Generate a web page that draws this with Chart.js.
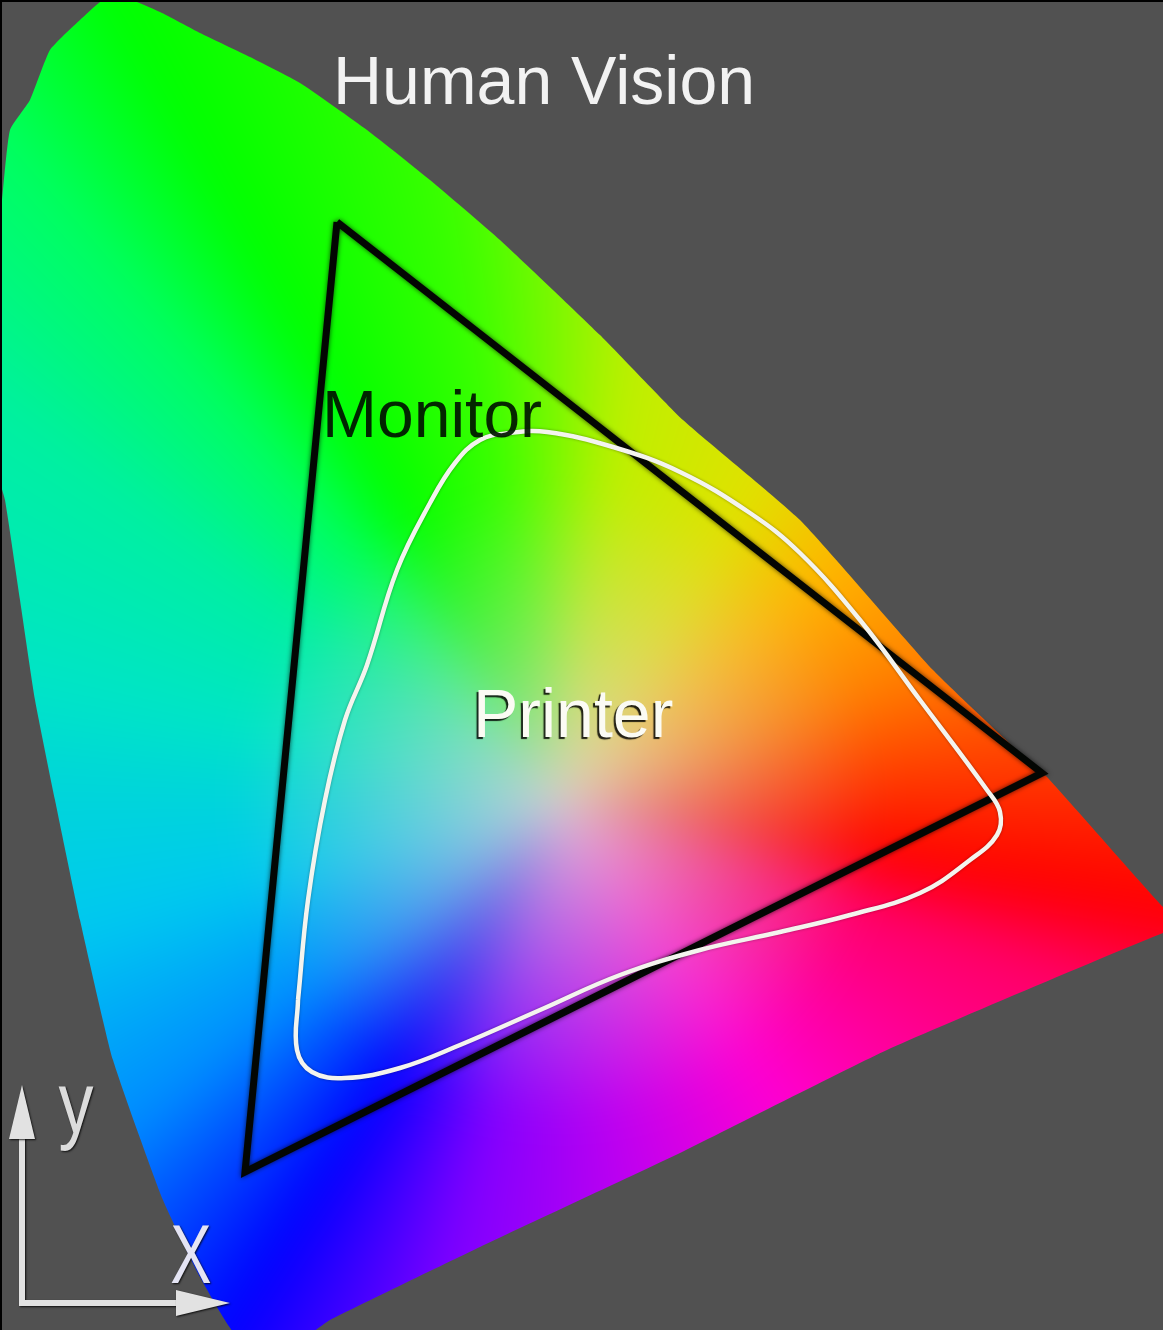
<!DOCTYPE html>
<html>
<head>
<meta charset="utf-8">
<script src="https://cdn.jsdelivr.net/npm/chart.js@4.4.0/dist/chart.umd.min.js"></script>
<style>
html,body{margin:0;padding:0;background:#515151;overflow:hidden}
canvas{display:block}
</style>
</head>
<body>
<canvas id="c" width="1163" height="1330"></canvas>
<script>
// ---- Data (chromaticity-style coordinates) ----
const humanVision = [
  {x:-0.020,y:1.103},{x:-0.012,y:1.173},{x:0.008,y:1.203},{x:0.028,y:1.253},{x:0.058,y:1.283},
  {x:0.090,y:1.309},{x:0.138,y:1.291},{x:0.178,y:1.270},{x:0.228,y:1.246},{x:0.278,y:1.220},
  {x:0.345,y:1.173},{x:0.408,y:1.123},{x:0.478,y:1.063},{x:0.578,y:0.968},{x:0.661,y:0.883},
  {x:0.778,y:0.783},{x:0.911,y:0.633},{x:0.998,y:0.550},{x:1.025,y:0.526},{x:1.141,y:0.396},
  {x:1.168,y:0.373},{x:1.141,y:0.370},{x:0.865,y:0.253},{x:0.658,y:0.150},{x:0.458,y:0.056},
  {x:0.308,y:-0.017},{x:0.278,y:-0.037},{x:0.218,y:-0.037},{x:0.178,y:0.026},{x:0.141,y:0.103},
  {x:0.091,y:0.243},{x:0.058,y:0.383},{x:0.033,y:0.503},{x:0.013,y:0.603},{x:-0.002,y:0.703},
  {x:-0.017,y:0.803},{x:-0.025,y:0.833},{x:-0.025,y:1.003},{x:-0.020,y:1.103}
];
const monitorGamut = [
  {x:0.315,y:1.081},{x:1.020,y:0.530},{x:0.223,y:0.131},{x:0.315,y:1.081}
];
const printerGamut = [
  {x:0.276,y:0.303},{x:0.286,y:0.403},{x:0.303,y:0.503},{x:0.323,y:0.583},{x:0.345,y:0.638},
  {x:0.375,y:0.733},{x:0.408,y:0.800},{x:0.433,y:0.840},{x:0.458,y:0.863},{x:0.488,y:0.870},
  {x:0.525,y:0.871},{x:0.591,y:0.856},{x:0.658,y:0.831},{x:0.728,y:0.790},{x:0.778,y:0.750},
  {x:0.838,y:0.683},{x:0.898,y:0.603},{x:0.965,y:0.513},{x:0.978,y:0.491},{x:0.975,y:0.468},
  {x:0.948,y:0.443},{x:0.898,y:0.410},{x:0.828,y:0.388},{x:0.758,y:0.371},{x:0.678,y:0.353},
  {x:0.598,y:0.328},{x:0.518,y:0.293},{x:0.438,y:0.258},{x:0.378,y:0.235},{x:0.323,y:0.225},
  {x:0.290,y:0.231},{x:0.275,y:0.253},{x:0.276,y:0.303}
];
const gamutLabels = [
  {text:'Human Vision', x:0.311, y:1.199},
  {text:'Monitor',      x:0.300, y:0.866},
  {text:'Printer',      x:0.451, y:0.566}
];
const axisLabels = [
  {text:'y', x:0.054, y:0.170},
  {text:'X', x:0.169, y:0.020}
];
const whitePoint = {x:0.538, y:0.503};
const axisArrowX = 0.208, axisArrowY = 0.218;

// ---- Styling helpers ----
const hueAnchors = [
  [10,255,0,0],[19,255,0,100],[54,255,0,210],[80,190,0,240],[103,128,0,255],[122,0,0,255],
  [143,0,140,255],[165,0,200,240],[183,0,215,215],[192,0,228,200],[215,0,240,160],[230,0,255,96],
  [241,0,255,0],[260,60,255,0],[279,190,240,0],[302,225,225,0],[320,255,180,0],[340,255,128,0],
  [370,255,0,0]
];
let spectrumPattern = null;
function spectrumFill(ctx){
  const chart = ctx.chart;
  if(!chart.chartArea) return 'rgba(0,0,0,0)';
  if(spectrumPattern) return spectrumPattern;
  const W = chart.width, H = chart.height, M = 60;
  const WW = W+2*M, HH = H+2*M;
  const off = document.createElement('canvas'); off.width = WW; off.height = HH;
  const o = off.getContext('2d');
  const img = o.createImageData(WW,HH); const d = img.data;
  const cx = chart.scales.x.getPixelForValue(whitePoint.x);
  const cy = chart.scales.y.getPixelForValue(whitePoint.y);
  const R = 320, g0=[218,208,208];
  for(let yy=0;yy<HH;yy++){
    const y=yy-M;
    for(let xx=0;xx<WW;xx++){
      const x=xx-M;
      const dx=x-cx, dy=y-cy;
      let a = Math.atan2(dy,dx)*180/Math.PI; if(a<0)a+=360; if(a<10)a+=360;
      let i=0; while(i<hueAnchors.length-2 && hueAnchors[i+1][0]<a) i++;
      const A=hueAnchors[i], B=hueAnchors[i+1];
      const t=(a-A[0])/(B[0]-A[0]);
      const r=A[1]+(B[1]-A[1])*t, g=A[2]+(B[2]-A[2])*t, b=A[3]+(B[3]-A[3])*t;
      const s=Math.pow(Math.min(1,Math.sqrt(dx*dx+dy*dy)/R),0.75);
      const k=(yy*WW+xx)*4;
      d[k]=g0[0]+(r-g0[0])*s; d[k+1]=g0[1]+(g-g0[1])*s; d[k+2]=g0[2]+(b-g0[2])*s; d[k+3]=255;
    }
  }
  o.putImageData(img,0,0);
  const off2 = document.createElement('canvas'); off2.width = W; off2.height = H;
  const o2 = off2.getContext('2d');
  o2.filter = 'blur(22px)';
  o2.drawImage(off,-M,-M);
  spectrumPattern = chart.ctx.createPattern(off2,'no-repeat');
  return spectrumPattern;
}

const decor = {
  id:'decor',
  beforeDraw(chart){
    const c=chart.ctx; c.save(); c.fillStyle='#515151'; c.fillRect(0,0,chart.width,chart.height); c.restore();
  },
  beforeDatasetDraw(chart,args){
    if(args.index===1){const c=chart.ctx;c.save();c.shadowColor='rgba(0,0,0,0.7)';c.shadowBlur=5;}
    if(args.index===2){const c=chart.ctx;c.save();c.shadowColor='rgba(0,0,0,0.35)';c.shadowBlur=3;}
  },
  afterDatasetDraw(chart,args){
    if(args.index===1||args.index===2) chart.ctx.restore();
  },
  afterDatasetsDraw(chart){
    const c=chart.ctx, sx=chart.scales.x, sy=chart.scales.y;
    const P=(p)=>[sx.getPixelForValue(p.x), sy.getPixelForValue(p.y)];
    c.save();
    c.textBaseline='alphabetic'; c.textAlign='left';
    let [hx,hy]=P(gamutLabels[0]);
    c.font='68px "Liberation Sans", Arial, sans-serif';
    c.fillStyle='#f2f2f2'; c.fillText(gamutLabels[0].text,hx,hy);
    let [mx,my]=P(gamutLabels[1]);
    c.font='66px "Liberation Sans", Arial, sans-serif';
    c.fillStyle='rgba(0,20,0,0.92)'; c.fillText(gamutLabels[1].text,mx,my);
    let [px,py]=P(gamutLabels[2]);
    c.font='68px "Liberation Sans", Arial, sans-serif';
    c.shadowColor='rgba(0,0,0,0.85)'; c.shadowOffsetX=-2; c.shadowOffsetY=2; c.shadowBlur=1;
    c.fillStyle='#fbfbf4'; c.fillText(gamutLabels[2].text,px,py);
    const [ox,oy]=P({x:0,y:0});
    const [ax]=P({x:axisArrowX,y:0});
    const [,ay]=P({x:0,y:axisArrowY});
    c.shadowColor='rgba(0,0,0,0.8)'; c.shadowOffsetX=1; c.shadowOffsetY=1; c.shadowBlur=2;
    c.strokeStyle='#e2e2e2'; c.fillStyle='#e2e2e2'; c.lineWidth=6; c.lineCap='butt';
    c.beginPath(); c.moveTo(ox,ay+40); c.lineTo(ox,oy); c.lineTo(ax-40,oy); c.stroke();
    c.beginPath(); c.moveTo(ox,ay); c.lineTo(ox-13,ay+54); c.lineTo(ox+13,ay+54); c.closePath(); c.fill();
    c.beginPath(); c.moveTo(ax,oy); c.lineTo(ax-54,oy-13); c.lineTo(ax-54,oy+13); c.closePath(); c.fill();
    c.textAlign='center';
    c.fillStyle='#dcdcdc';
    let [yx,yy]=P(axisLabels[0]);
    c.save(); c.translate(yx,yy); c.scale(1,1.25); c.font='70px "Liberation Sans", Arial, sans-serif'; c.fillText(axisLabels[0].text,0,0); c.restore();
    let [xx,xy]=P(axisLabels[1]);
    c.save(); c.translate(xx,xy); c.scale(1,1.35); c.font='62px "Liberation Sans", Arial, sans-serif'; c.fillStyle='#e4e4f4'; c.fillText(axisLabels[1].text,0,0); c.restore();
    c.restore();
  },
  afterDraw(chart){
    const c=chart.ctx; c.save(); c.fillStyle='#000';
    c.fillRect(0,0,chart.width,2); c.fillRect(0,0,2,chart.height); c.restore();
  }
};

new Chart(document.getElementById('c'), {
  type:'scatter',
  data:{datasets:[
    {label:'Human Vision', data:humanVision, showLine:true, fill:'shape', backgroundColor:spectrumFill,
     borderWidth:0, borderColor:'rgba(0,0,0,0)', pointRadius:0, pointHoverRadius:0, tension:0.15, order:3},
    {label:'Monitor', data:monitorGamut, showLine:true, fill:false, borderColor:'#030603', borderWidth:7,
     borderJoinStyle:'miter', pointRadius:0, pointHoverRadius:0, tension:0, order:2},
    {label:'Printer', data:printerGamut, showLine:true, fill:false, borderColor:'#f4f4ee', borderWidth:4.5,
     pointRadius:0, pointHoverRadius:0, tension:0.4, order:1}
  ]},
  options:{
    responsive:false, animation:false, events:[],
    layout:{padding:0},
    plugins:{legend:{display:false}, tooltip:{enabled:false}, title:{display:false}},
    scales:{
      x:{type:'linear', min:-0.022, max:1.141, display:false},
      y:{type:'linear', min:-0.027, max:1.303, display:false}
    }
  },
  plugins:[decor]
});
</script>
</body>
</html>
